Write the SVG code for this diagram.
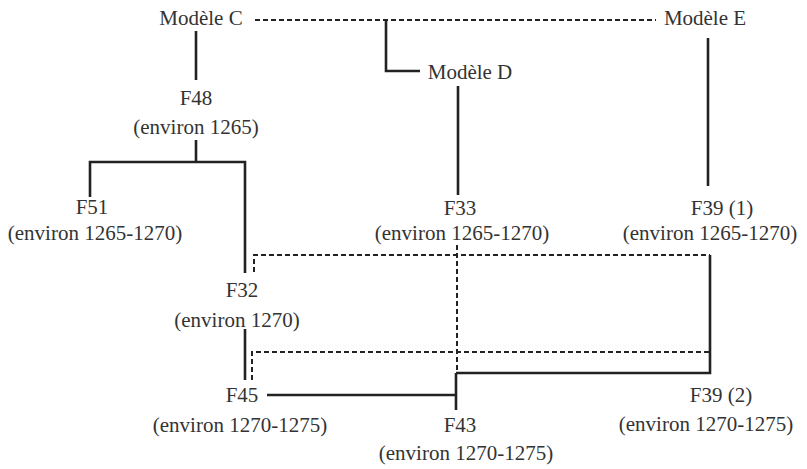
<svg xmlns="http://www.w3.org/2000/svg" width="807" height="469" viewBox="0 0 807 469">
<style>
text{font-family:'Liberation Serif','Times New Roman',Times,'DejaVu Serif','Noto Serif',serif;font-size:21px;fill:#333;text-anchor:middle}
.s{fill:none;stroke:#222;stroke-width:2.6}
.d{fill:none;stroke:#222;stroke-width:2;stroke-dasharray:5 3}
</style>
<rect width="807" height="469" fill="#fff"/>
<g id="connectors">
<path class="d" d="M255 20H656"/>
<path class="s" d="M386 20V71H420"/>
<path class="s" d="M196 31V80"/>
<path class="s" d="M196 140V162M90 197V162H245V273"/>
<path class="s" d="M458 86V195"/>
<path class="s" d="M708 38V186"/>
<path class="d" d="M254 272V255H710"/>
<path class="s" d="M710 255V373H456M456 373V410M267 395H456"/>
<path class="d" d="M457 245V372"/>
<path class="d" d="M252 380V352H710"/>
<path class="s" d="M245 329V380"/>
</g>
<g id="modeleC"><text x="201" y="25">Modèle C</text></g>
<g id="modeleE"><text x="705" y="25">Modèle E</text></g>
<g id="modeleD"><text x="470" y="79">Modèle D</text></g>
<g id="F48"><text x="196" y="105">F48</text><text x="196" y="134">(environ 1265)</text></g>
<g id="F51"><text x="92" y="214">F51</text><text x="95" y="240">(environ 1265-1270)</text></g>
<g id="F33"><text x="460" y="215">F33</text><text x="462" y="240">(environ 1265-1270)</text></g>
<g id="F39_1"><text x="722" y="215">F39 (1)</text><text x="710" y="240">(environ 1265-1270)</text></g>
<g id="F32"><text x="242" y="297">F32</text><text x="237" y="327">(environ 1270)</text></g>
<g id="F45"><text x="242" y="402">F45</text><text x="240" y="432">(environ 1270-1275)</text></g>
<g id="F43"><text x="460" y="432">F43</text><text x="466" y="460">(environ 1270-1275)</text></g>
<g id="F39_2"><text x="721" y="402">F39 (2)</text><text x="706" y="431">(environ 1270-1275)</text></g>
</svg>
